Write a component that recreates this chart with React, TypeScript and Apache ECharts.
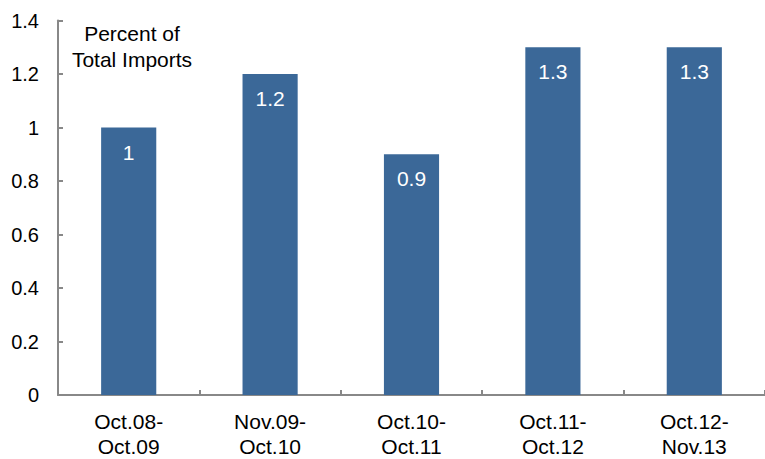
import React, { useEffect, useRef } from "react";
import * as echarts from "echarts";

const categories = ["Oct.08-\nOct.09", "Nov.09-\nOct.10", "Oct.10-\nOct.11", "Oct.11-\nOct.12", "Oct.12-\nNov.13"];
const values = [1, 1.2, 0.9, 1.3, 1.3];
const unitLabel = "Percent of\nTotal Imports";

const FONT = "'Liberation Sans', Arial, sans-serif";

export default function App() {
  const ref = useRef<HTMLDivElement>(null);
  useEffect(() => {
    const chart = echarts.init(ref.current!, undefined, { renderer: "svg" });
    chart.setOption({
      animation: false,
      textStyle: { fontFamily: FONT },
      grid: { left: 58, top: 20.5, bottom: 64, right: -8, containLabel: false },
      xAxis: {
        type: "category",
        data: categories,
        axisLine: { lineStyle: { color: "#888888", width: 2 } },
        axisTick: { show: true, inside: true, length: 5, lineStyle: { color: "#888888", width: 2 } },
        axisLabel: { color: "#000", fontSize: 21, lineHeight: 25, margin: 14, fontFamily: FONT },
      },
      yAxis: {
        type: "value",
        min: 0,
        max: 1.4,
        interval: 0.2,
        splitLine: { show: false },
        axisLine: { show: true, lineStyle: { color: "#888888", width: 2 } },
        axisTick: { show: true, inside: true, length: 5, lineStyle: { color: "#888888", width: 2 } },
        axisLabel: { color: "#000", fontSize: 20, margin: 19, fontFamily: FONT },
      },
      graphic: [
        {
          type: "text",
          x: 132,
          y: 20,
          style: {
            text: unitLabel,
            fontSize: 21,
            lineHeight: 26,
            fill: "#000",
            align: "center",
            verticalAlign: "top",
            fontFamily: FONT,
          },
        },
      ],
      series: [
        {
          type: "bar",
          data: values,
          barWidth: "39%",
          itemStyle: { color: "#3b6898" },
          label: {
            show: true,
            position: "insideTop",
            distance: 14,
            color: "#fff",
            fontSize: 21,
            fontFamily: FONT,
          },
        },
      ],
    });
    return () => chart.dispose();
  }, []);
  return <div ref={ref} style={{ width: 765, height: 459, position: "absolute", left: 0, top: 0 }} />;
}
